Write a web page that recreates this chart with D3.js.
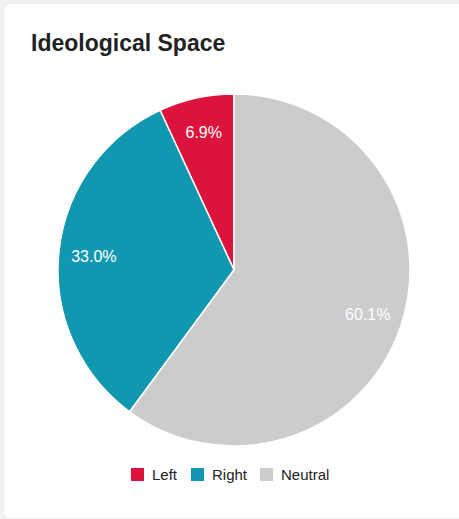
<!DOCTYPE html>
<html><head><meta charset="utf-8">
<script src="https://cdn.jsdelivr.net/npm/d3@7"></script>
<style>
html,body{margin:0;padding:0;background:#f2f2f2;}
body{width:459px;height:519px;overflow:hidden;font-family:"Liberation Sans",Arial,sans-serif;}
.card{position:absolute;left:4px;top:4px;width:470px;height:514px;background:#fff;border-radius:5px;box-shadow:0 0 2px rgba(0,0,0,0.08);}
svg{position:absolute;left:0;top:0;}
</style></head><body>
<div class="card"></div>
<svg id="c" width="459" height="519"></svg>
<script>
const categories = ["Left", "Right", "Neutral"];
const values = [6.9, 33.0, 60.1];
const colors = ["#dc143c", "#1197b0", "#cccccc"];
const title = "Ideological Space";

const svg = d3.select("#c");
const cx = 234, cy = 270, R = 176;

svg.append("text").attr("x", 31).attr("y", 51)
  .attr("font-size", 23).attr("font-weight", "bold").attr("fill", "#222")
  .attr("font-family", "Liberation Sans, Arial, sans-serif").text(title);

const data = categories.map((c, i) => ({cat: c, v: values[i], color: colors[i]}));
const pie = d3.pie().value(d => d.v).sort(null).startAngle(0).endAngle(-2 * Math.PI);
const arcs = pie(data);
const arc = d3.arc().innerRadius(0).outerRadius(R);
const labelArc = d3.arc().innerRadius(R * 0.8).outerRadius(R * 0.8);

const g = svg.append("g").attr("transform", `translate(${cx},${cy})`);
g.selectAll("path").data(arcs).join("path")
  .attr("d", arc).attr("fill", d => d.data.color)
  .attr("stroke", "#fff").attr("stroke-width", 1.5);

g.selectAll("text").data(arcs).join("text")
  .attr("transform", d => `translate(${labelArc.centroid(d)})`)
  .attr("text-anchor", "middle").attr("dy", "0.36em")
  .attr("fill", "#fff").attr("font-size", 16)
  .attr("font-family", "Liberation Sans, Arial, sans-serif")
  .text(d => d.data.v.toFixed(1) + "%");

const legendX = [131, 191, 260];
const lg = svg.append("g");
data.forEach((d, i) => {
  lg.append("rect").attr("x", legendX[i]).attr("y", 468).attr("width", 13).attr("height", 13)
    .attr("fill", d.color);
  lg.append("text").attr("x", legendX[i] + 21).attr("y", 480)
    .attr("font-size", 15).attr("fill", "#222")
    .attr("font-family", "Liberation Sans, Arial, sans-serif").text(d.cat);
});
</script>
</body></html>
